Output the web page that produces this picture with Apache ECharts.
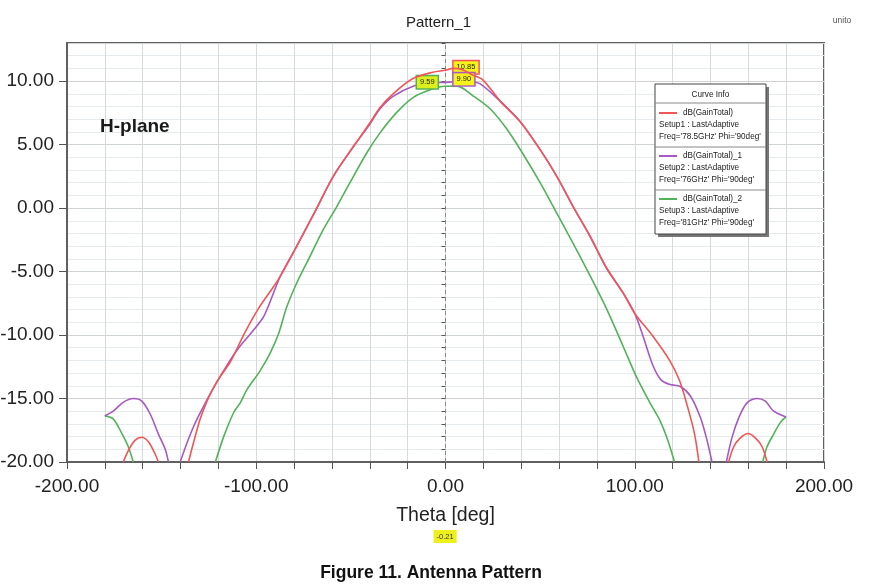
<!DOCTYPE html>
<html>
<head>
<meta charset="utf-8">
<script src="https://cdn.jsdelivr.net/npm/echarts@6/dist/echarts.min.js"></script>
<style>
html,body{margin:0;padding:0;background:#fff;}
#chart{width:880px;height:586px;}
</style>
</head>
<body>
<div id="chart"></div>
<script>
// ---- data (theta [deg], dB) ; null = gap (curve below -20 dB) ----
var redData = [
  [-170.3,-20],[-167.6,-19.1],[-164.1,-18.3],[-160.5,-18.05],[-157,-18.4],[-153.5,-19.35],[-151.7,-20],null,
  [-135.8,-20],[-133.1,-18.45],[-129.6,-16.6],[-126,-15.2],[-120.7,-13.65],[-113.6,-12.1],[-106.7,-10],
  [-98.8,-7.9],[-90.9,-6.2],[-87.4,-5.4],[-78.6,-3.0],[-68,0],[-59.3,2.5],[-47.9,5],[-40,6.7],[-34.7,7.9],
  [-27.7,9.0],[-17.2,10.2],[-6.7,10.7],[-0.21,10.85],[4,11.0],[9,10.9],[14,10.5],[19.7,10.1],[29,8.4],
  [39.5,6.8],[50,4.6],[58.8,2.5],[67.5,0.1],[76.3,-2.2],[85,-4.7],[93.9,-6.7],[100,-8.3],[109.6,-10.1],
  [118.4,-12],[123.7,-13.6],[128,-15.7],[131.6,-17.8],[133.9,-20],null,
  [149.6,-20],[152.3,-18.8],[155.8,-18.1],[159.9,-17.75],[163.7,-18.1],[167.3,-18.8],[169.9,-20]
];
var purpleData = [
  [-180,-16.37],[-175.6,-16],[-170.3,-15.3],[-165,-15],[-160.5,-15.2],[-156.1,-16.2],[-151.7,-17.8],[-148.1,-19],[-146.4,-20],null,
  [-140.2,-20],[-136.6,-18.5],[-133.1,-17.2],[-129.5,-16.1],[-124.2,-14.6],[-117.2,-12.8],[-110.2,-11.2],
  [-101.4,-9.6],[-96.1,-8.55],[-90.9,-6.7],[-87.4,-5.4],[-78.6,-3.0],[-68,0],[-59.3,2.5],[-47.9,5],[-40,6.6],
  [-34.7,7.8],[-27.7,8.8],[-17.1,9.6],[-8,9.85],[-0.21,9.90],[5,9.95],[12,9.95],[18.1,9.8],[29,8.4],
  [39.5,6.8],[50,4.6],[58.8,2.5],[67.5,0.1],[76.3,-2.2],[85,-4.7],[93.9,-6.7],[100,-8.3],[104.4,-10.1],
  [109.6,-12.4],[114,-13.55],[118.8,-13.9],[124.1,-14.05],[129.4,-14.8],[134.7,-16.5],[138.2,-18.3],[140.8,-20],null,
  [148.4,-20],[151.4,-18.06],[155,-16.5],[159.3,-15.34],[164.6,-15],[169,-15.2],[173.4,-16],[179.9,-16.45]
];
var greenData = [
  [-180,-16.37],[-175.6,-16.6],[-171.2,-17.7],[-167.6,-18.8],[-165,-20],null,
  [-121.6,-20],[-117.2,-18.0],[-111.9,-16.1],[-108.3,-15.3],[-104.9,-14.3],[-97.9,-12.8],[-92.6,-11.4],
  [-88.2,-9.9],[-83.9,-7.8],[-78.6,-5.9],[-71.6,-3.8],[-64.6,-1.7],[-57.5,0.1],[-50.5,2.0],[-41.8,4.3],
  [-34.7,5.9],[-26,7.5],[-17.2,8.7],[-8.4,9.3],[-0.21,9.59],[6.1,9.6],[14.9,8.8],[23.7,7.8],[32.5,6.2],
  [41.2,4.2],[50,2.0],[58.8,-0.4],[67.5,-2.8],[76.3,-5.3],[85,-7.9],[93.9,-10.9],[100.9,-13.3],[107.9,-15.3],
  [113.2,-16.7],[117.5,-18.3],[121,-20],null,
  [167.6,-20],[169.9,-18.8],[173.4,-17.8],[176.9,-16.9],[179.9,-16.45]
];
var markerTheta = -0.21;
var markerValues = [10.85, 9.90, 9.59];
var seriesNames = ['dB(GainTotal)', 'dB(GainTotal)_1', 'dB(GainTotal)_2'];
var setupLines = ['Setup1 : LastAdaptive', 'Setup2 : LastAdaptive', 'Setup3 : LastAdaptive'];
var freqLines = ["Freq='78.5GHz' Phi='90deg'", "Freq='76GHz' Phi='90deg'", "Freq='81GHz' Phi='90deg'"];
var colors = ['#f25555', '#a659c2', '#52b25a'];

var SANS = '"Liberation Sans",Arial,sans-serif';

var chart = echarts.init(document.getElementById('chart'));

function markerPoint(i, pos, dist, offY, bg) {
  return {
    symbol: 'circle', symbolSize: 1,
    data: [{ coord: [markerTheta, markerValues[i]], value: markerValues[i] }],
    label: {
      show: true, position: pos, distance: dist, offset: [0, offY],
      formatter: markerValues[i].toFixed(2),
      fontFamily: SANS, fontSize: 7.5, color: '#222',
      backgroundColor: bg, borderColor: colors[i], borderWidth: 1.5,
      padding: [2, 3, 1, 3], lineHeight: 9
    },
    itemStyle: { color: colors[i] }
  };
}

// legend box built from graphic elements
var lg = [];
var bx = 655, by = 84, bw = 111, bh = 150;
var LF = '8.2px ' + SANS;
lg.push({ type: 'rect', shape: { x: bx + 3, y: by + 3, width: bw, height: bh }, style: { fill: '#777' }, z: 100 });
lg.push({ type: 'rect', shape: { x: bx, y: by, width: bw, height: bh }, style: { fill: '#fff', stroke: '#444', lineWidth: 1 }, z: 101 });
lg.push({ type: 'text', x: bx + bw / 2, y: by + 11, style: { text: 'Curve Info', font: LF, fill: '#222', align: 'center', verticalAlign: 'middle' }, z: 102 });
lg.push({ type: 'line', shape: { x1: bx, y1: by + 19, x2: bx + bw, y2: by + 19 }, style: { stroke: '#888', lineWidth: 1 }, z: 102 });
for (var i = 0; i < 3; i++) {
  var ey = by + 29 + i * 43;
  lg.push({ type: 'line', shape: { x1: bx + 4, y1: ey, x2: bx + 22, y2: ey }, style: { stroke: colors[i], lineWidth: 2 }, z: 102 });
  lg.push({ type: 'text', x: bx + 28, y: ey, style: { text: seriesNames[i], font: LF, fill: '#222', verticalAlign: 'middle' }, z: 102 });
  lg.push({ type: 'text', x: bx + 4, y: ey + 12, style: { text: setupLines[i], font: LF, fill: '#222', verticalAlign: 'middle' }, z: 102 });
  lg.push({ type: 'text', x: bx + 4, y: ey + 24, style: { text: freqLines[i], font: LF, fill: '#222', verticalAlign: 'middle' }, z: 102 });
  if (i < 2) {
    lg.push({ type: 'line', shape: { x1: bx, y1: ey + 34, x2: bx + bw, y2: ey + 34 }, style: { stroke: '#888', lineWidth: 1 }, z: 102 });
  }
}
lg.push({ type: 'text', x: 100, y: 127, style: { text: 'H-plane', font: 'bold 19px ' + SANS, fill: '#1a1a1a', verticalAlign: 'middle' }, z: 50 });
lg.push({ type: 'text', x: 842, y: 21, style: { text: 'unito', font: '8.5px ' + SANS, fill: '#555', align: 'center', verticalAlign: 'middle' }, z: 50 });
lg.push({ type: 'text', x: 431, y: 573, style: { text: 'Figure 11. Antenna Pattern', font: 'bold 17.5px ' + SANS, fill: '#111', align: 'center', verticalAlign: 'middle' }, z: 50 });

var option = {
  animation: false,
  backgroundColor: '#fff',
  title: {
    text: 'Pattern_1', left: 401, top: 10,
    textStyle: { fontFamily: SANS, fontSize: 15, fontWeight: 'normal', color: '#222' }
  },
  grid: {
    left: 67, right: 56, top: 43, bottom: 124,
    show: true, borderColor: '#606060', borderWidth: 2, backgroundColor: 'transparent',
    outerBoundsMode: 'none', containLabel: false
  },
  xAxis: {
    type: 'value', min: -200, max: 200, interval: 100,
    name: 'Theta [deg]', nameLocation: 'middle', nameGap: 44,
    nameTextStyle: { fontFamily: SANS, fontSize: 19.5, color: '#222' },
    axisLine: { show: true, onZero: false, lineStyle: { color: '#606060', width: 2 } },
    axisTick: { show: true, length: 7, lineStyle: { color: '#555' } },
    minorTick: { show: true, splitNumber: 5, length: 7, lineStyle: { color: '#555' } },
    axisLabel: { fontFamily: SANS, fontSize: 19, color: '#222', margin: 15, formatter: function (v) { return v.toFixed(2); } },
    splitLine: { show: true, lineStyle: { color: '#d6dada', width: 1 } },
    minorSplitLine: { show: true, lineStyle: { color: '#d6dada', width: 1 } }
  },
  yAxis: [
    {
      type: 'value', min: -20, max: 13, interval: 1, position: 'left',
      axisLine: { show: false },
      axisTick: { show: true, length: 4, lineStyle: { color: '#555' } },
      axisLabel: { show: false },
      splitLine: { show: true, lineStyle: { color: '#e6eced', width: 1 } }
    },
    {
      type: 'value', min: -20, max: 13, interval: 5, position: 'left',
      axisLine: { show: true, onZero: false, lineStyle: { color: '#606060', width: 2 } },
      axisTick: { show: true, length: 8, lineStyle: { color: '#555' } },
      axisLabel: {
        fontFamily: SANS, fontSize: 19, color: '#222', margin: 13, showMaxLabel: false,
        formatter: function (v) { return (v % 5 === 0) ? v.toFixed(2) : ''; }
      },
      splitLine: { show: true, lineStyle: { color: '#cfd3d3', width: 1 } }
    }
  ],
  series: [
    {
      name: seriesNames[0], type: 'line', yAxisIndex: 1, data: redData,
      showSymbol: false, smooth: 0.3, connectNulls: false, clip: true,
      lineStyle: { color: colors[0], width: 1.6 }, itemStyle: { color: colors[0] }, z: 5,
      markPoint: markerPoint(0, 'right', 8, -3, '#f6f31a'),
      markLine: {
        silent: true, symbol: 'none',
        data: [{ xAxis: markerTheta }],
        lineStyle: { color: '#8a8a8a', type: [4, 3], width: 1 },
        label: {
          show: true, position: 'start', distance: 68, formatter: '-0.21',
          fontFamily: SANS, fontSize: 7.5, color: '#333',
          backgroundColor: '#eef01e', padding: [3, 3, 2, 3]
        }
      }
    },
    {
      name: seriesNames[1], type: 'line', yAxisIndex: 1, data: purpleData,
      showSymbol: false, smooth: 0.3, connectNulls: false, clip: true,
      lineStyle: { color: colors[1], width: 1.6 }, itemStyle: { color: colors[1] }, z: 4,
      markPoint: markerPoint(1, 'right', 8, -3, '#f6f31a')
    },
    {
      name: seriesNames[2], type: 'line', yAxisIndex: 1, data: greenData,
      showSymbol: false, smooth: 0.3, connectNulls: false, clip: true,
      lineStyle: { color: colors[2], width: 1.6 }, itemStyle: { color: colors[2] }, z: 3,
      markPoint: markerPoint(2, 'left', 7, -4, '#dcef1a')
    }
  ],
  graphic: lg
};
chart.setOption(option);
</script>
</body>
</html>
